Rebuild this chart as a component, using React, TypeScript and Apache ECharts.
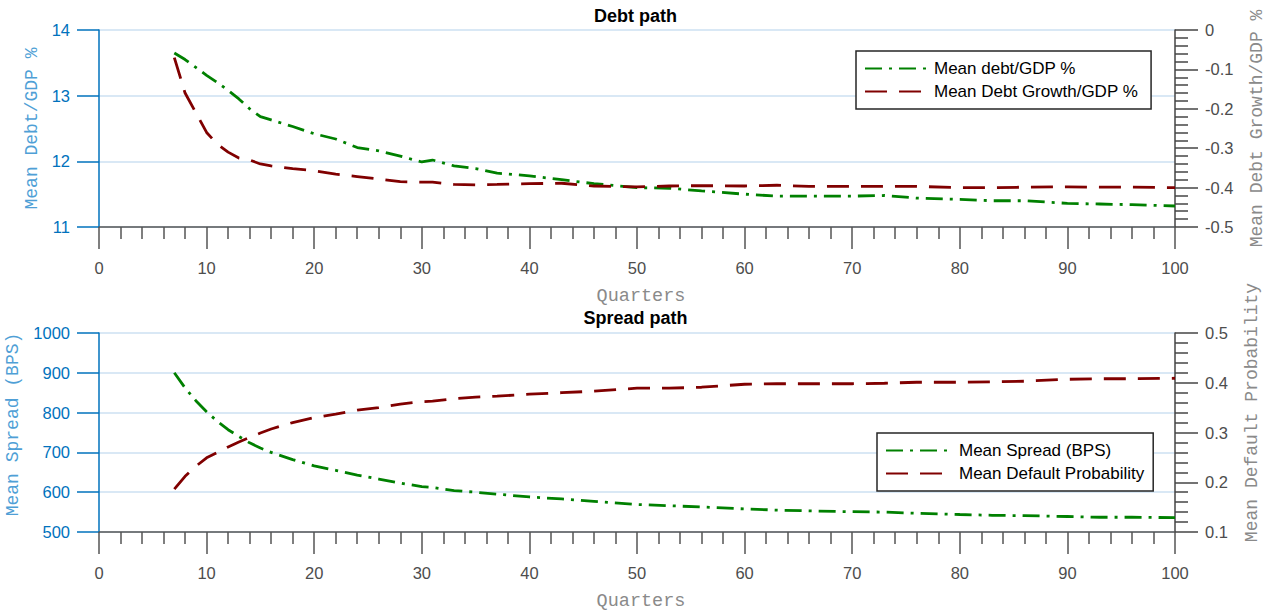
import React, { useEffect, useRef } from "react";
import * as echarts from "echarts";

// Quarters at which the simulated paths are reported
const quarters = [7, 8, 9, 10, 11, 12, 13, 14, 15, 16, 18, 20, 22, 24, 26, 28, 30, 31, 33, 35, 37, 40, 43, 46, 50, 53, 56, 60, 63, 66, 70, 73, 76, 80, 83, 86, 90, 93, 96, 100];

// Debt path
const meanDebtGdp = [13.65, 13.55, 13.43, 13.31, 13.2, 13.08, 12.95, 12.8, 12.68, 12.63, 12.53, 12.42, 12.34, 12.21, 12.16, 12.08, 11.99, 12.02, 11.93, 11.89, 11.82, 11.78, 11.72, 11.66, 11.6, 11.59, 11.55, 11.5, 11.47, 11.47, 11.47, 11.48, 11.44, 11.42, 11.4, 11.4, 11.36, 11.35, 11.34, 11.32];
const meanDebtGrowthGdp = [-0.07, -0.16, -0.21, -0.26, -0.29, -0.31, -0.325, -0.33, -0.34, -0.345, -0.352, -0.357, -0.366, -0.372, -0.378, -0.385, -0.386, -0.386, -0.392, -0.393, -0.392, -0.39, -0.389, -0.396, -0.398, -0.396, -0.395, -0.396, -0.394, -0.397, -0.397, -0.397, -0.397, -0.4, -0.4, -0.399, -0.398, -0.399, -0.399, -0.4];

// Spread path
const meanSpread = [900, 862, 830, 802, 778, 757, 740, 724, 711, 700, 682, 666, 655, 643, 633, 623, 614, 612, 604, 600, 595, 588, 583, 577, 569, 566, 563, 558, 555, 553, 551, 550, 547, 544, 542, 541, 539, 537, 537, 536];
const meanDefaultProb = [0.186, 0.212, 0.232, 0.249, 0.26, 0.271, 0.281, 0.29, 0.299, 0.307, 0.32, 0.33, 0.337, 0.345, 0.35, 0.357, 0.362, 0.363, 0.368, 0.371, 0.373, 0.377, 0.38, 0.383, 0.389, 0.389, 0.391, 0.397, 0.398, 0.398, 0.398, 0.399, 0.401, 0.401, 0.402, 0.403, 0.407, 0.408, 0.408, 0.409];

const pairs = (ys: number[]) => quarters.map((q, i) => [q, ys[i]]);

const BLUE = "#0072BD";
const BLUE_NAME = "#4f9fd6";
const GRAY = "#4d4d4d";
const GRAY_NAME = "#8a8a8a";
const GREEN = "#008000";
const RED = "#800000";
const SANS = "'Liberation Sans', Arial, Helvetica, sans-serif";
const MONO = "'Liberation Mono', 'Courier New', monospace";

const DASH_DOT = [17, 7, 3, 7];
const DASHED = [22, 12];

function xAxisFor(gridIndex: number) {
  return {
    type: "value",
    gridIndex,
    min: 0,
    max: 100,
    interval: 10,
    name: "Quarters",
    nameLocation: "middle",
    nameGap: 60,
    nameTextStyle: { fontFamily: MONO, fontSize: 18.5, color: GRAY_NAME, padding: [0, 0, 0, 8] },
    axisLine: { show: true, onZero: false, lineStyle: { color: "#555", width: 1.5 } },
    axisTick: { show: true, inside: false, length: 22, lineStyle: { color: "#555", width: 1.5 } },
    minorTick: { show: true, splitNumber: 5, length: 12, lineStyle: { color: "#555", width: 1.5 } },
    axisLabel: { color: GRAY, fontFamily: SANS, fontSize: 16.5, margin: 32 },
    splitLine: { show: false },
  };
}

function leftAxis(gridIndex: number, min: number, max: number, interval: number, name: string, shift: number) {
  return {
    type: "value",
    gridIndex,
    position: "left",
    min,
    max,
    interval,
    name,
    nameLocation: "middle",
    nameRotate: 90,
    nameGap: 54,
    nameTextStyle: { fontFamily: MONO, fontSize: 18, color: BLUE_NAME, padding: [0, 0, 0, shift] },
    axisLine: { show: true, onZero: false, lineStyle: { color: BLUE, width: 1.5 } },
    axisTick: { show: true, inside: false, length: 22, lineStyle: { color: BLUE, width: 1.5 } },
    axisLabel: { color: BLUE, fontFamily: SANS, fontSize: 16.5, margin: 29, formatter: (v: number) => String(v) },
    splitLine: { show: true, lineStyle: { color: "#d9e8f5", width: 2 } },
  };
}

function rightAxis(gridIndex: number, min: number, max: number, name: string, gap: number, shift: number) {
  return {
    type: "value",
    gridIndex,
    position: "right",
    min,
    max,
    interval: 0.1,
    name,
    nameLocation: "middle",
    nameRotate: 90,
    nameGap: gap,
    nameTextStyle: { fontFamily: MONO, fontSize: 18, color: GRAY_NAME, padding: [0, 0, 0, shift] },
    axisLine: { show: true, onZero: false, lineStyle: { color: "#444", width: 1.5 } },
    axisTick: { show: true, inside: false, length: 23, lineStyle: { color: "#444", width: 1.5 } },
    minorTick: { show: true, splitNumber: 5, length: 13, lineStyle: { color: "#444", width: 1.5 } },
    axisLabel: { color: GRAY, fontFamily: SANS, fontSize: 16.5, margin: 30 },
    splitLine: { show: false },
  };
}

function lineSeries(name: string, xAxisIndex: number, yAxisIndex: number, ys: number[], color: string, dash: number[]) {
  return {
    type: "line",
    name,
    xAxisIndex,
    yAxisIndex,
    data: pairs(ys),
    symbol: "none",
    showSymbol: false,
    color,
    lineStyle: { color, width: 2.8, type: dash },
  };
}

function legendFor(names: string[], left: number, top: number, itemWidth: number, padRight: number) {
  return {
    data: names,
    orient: "vertical",
    left,
    top,
    itemWidth,
    itemHeight: 16,
    itemGap: 6,
    padding: [9, padRight, 9, 8],
    borderColor: "#262626",
    borderWidth: 1.5,
    backgroundColor: "#fff",
    itemStyle: { opacity: 0 },
    textStyle: { fontFamily: SANS, fontSize: 17, color: "#000" },
    selectedMode: false,
  };
}

export default function App() {
  const ref = useRef<HTMLDivElement>(null);

  useEffect(() => {
    if (!ref.current) return;
    const chart = echarts.init(ref.current, undefined, { renderer: "svg" });
    chart.setOption({
      animation: false,
      backgroundColor: "#fff",
      title: [
        { text: "Debt path", left: "center", top: 2, textStyle: { fontFamily: SANS, fontSize: 18, fontWeight: "bold", color: "#000" } },
        { text: "Spread path", left: "center", top: 304, textStyle: { fontFamily: SANS, fontSize: 18, fontWeight: "bold", color: "#000" } },
      ],
      grid: [
        { left: 99, top: 30, width: 1076, height: 197, outerBoundsMode: "none", containLabel: false },
        { left: 99, top: 333, width: 1076, height: 199, outerBoundsMode: "none", containLabel: false },
      ],
      xAxis: [xAxisFor(0), xAxisFor(1)],
      yAxis: [
        leftAxis(0, 11, 14, 1, "Mean Debt/GDP %", 0),
        rightAxis(0, -0.5, 0, "Mean Debt Growth/GDP %", 73, 0),
        leftAxis(1, 500, 1000, 100, "Mean Spread (BPS)", 16),
        rightAxis(1, 0.1, 0.5, "Mean Default Probability", 68, 40),
      ],
      legend: [
        legendFor(["Mean debt/GDP %", "Mean Debt Growth/GDP %"], 856, 51, 64, 13),
        legendFor(["Mean Spread (BPS)", "Mean Default Probability"], 877, 433, 68, 9),
      ],
      series: [
        lineSeries("Mean debt/GDP %", 0, 0, meanDebtGdp, GREEN, DASH_DOT),
        lineSeries("Mean Debt Growth/GDP %", 0, 1, meanDebtGrowthGdp, RED, DASHED),
        lineSeries("Mean Spread (BPS)", 1, 2, meanSpread, GREEN, DASH_DOT),
        lineSeries("Mean Default Probability", 1, 3, meanDefaultProb, RED, DASHED),
      ],
    });
    return () => chart.dispose();
  }, []);

  return (
    <div
      ref={ref}
      style={{ position: "fixed", left: 0, top: 0, width: 1271, height: 613, background: "#fff" }}
    />
  );
}
